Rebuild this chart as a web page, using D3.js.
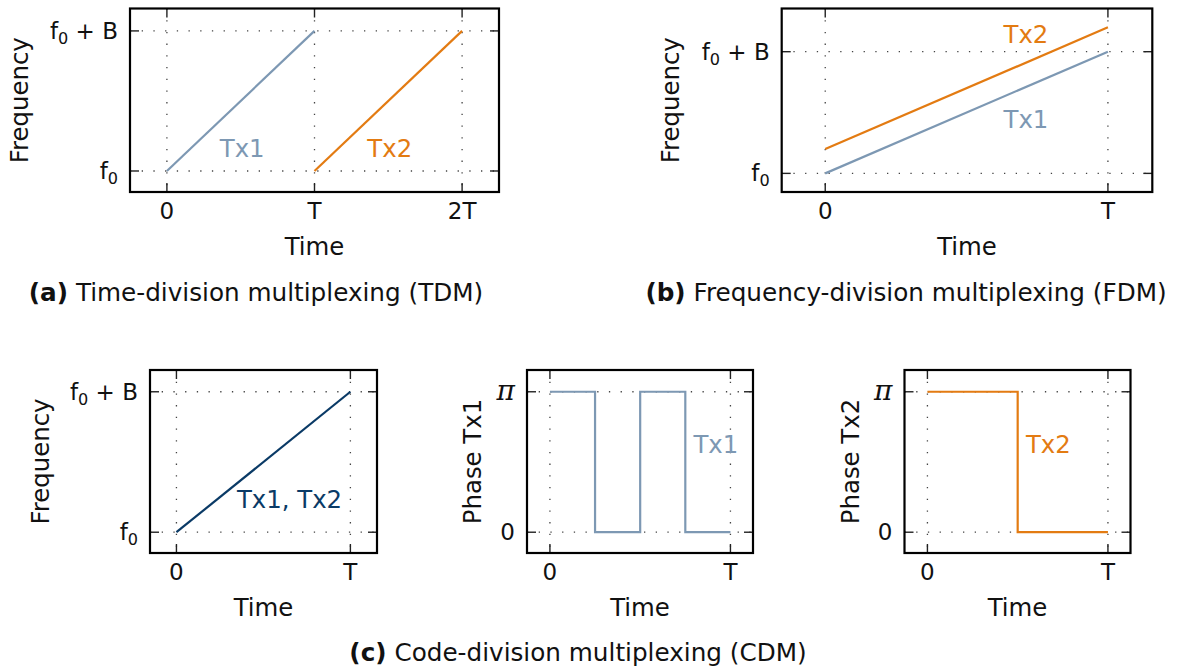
<!DOCTYPE html>
<html>
<head>
<meta charset="utf-8">
<script src="https://cdn.jsdelivr.net/npm/d3@7"></script>
<style>
  body { margin: 0; background: #fff; }
  text { font-family: "DejaVu Sans", sans-serif; fill: #111; }
</style>
</head>
<body>
<div id="fig"></div>
<script>
//---------------- data ----------------
var colTx1 = "#7d98b3", colTx2 = "#e37b12", colBoth = "#0a3a66";

// (a) TDM : time in units of T, frequency in units of B above f0
var tdmTx1 = [{t: 0, f: 0}, {t: 1, f: 1}];
var tdmTx2 = [{t: 1, f: 0}, {t: 2, f: 1}];
var tdmTicksX = [0, 1, 2], tdmTickLabelsX = ["0", "T", "2T"];

// (b) FDM
var fdmTx1 = [{t: 0, f: 0}, {t: 1, f: 1}];
var fdmTx2 = [{t: 0, f: 0.2}, {t: 1, f: 1.2}];

// (c) CDM
var cdmChirp = [{t: 0, f: 0}, {t: 1, f: 1}];
var chipTimes = [0, 0.25, 0.5, 0.75, 1];
var phaseTx1 = [1, 0, 1, 0, 0];   // 1 = pi, 0 = 0
var phaseTx2 = [1, 1, 0, 0, 0];

var ticksX01 = [0, 1], tickLabelsX01 = ["0", "T"];
var ticksFreq = [0, 1];           // f0, f0 + B
var ticksPhase = [0, 1];          // 0, pi

//---------------- svg ----------------
var width = 1178, height = 669;
var svg = d3.select("#fig").append("svg")
  .attr("width", width).attr("height", height);

var fs = 23,        // tick labels
    fsTitle = 24.4, // axis titles, series labels
    fsCap = 24.7;   // captions

function freqLabel(sel, d) {
  // f0 or f0 + B with subscript
  sel.text(null);
  sel.append("tspan").text("f");
  sel.append("tspan").attr("font-size", fs * 0.7).attr("dy", 5).text("0");
  if (d == 1) sel.append("tspan").attr("dy", -5).text(" + B");
}
function phaseLabel(sel, d) {
  sel.text(null);
  if (d == 1) {
    sel.append("tspan").attr("font-family", "DejaVu Serif").attr("font-style", "italic")
      .attr("font-size", 28).text("\u03c0");
  } else {
    sel.text("0");
  }
}

function panel(p) {
  var g = svg.append("g");
  var x = d3.scaleLinear().domain(p.xdom).range([p.left, p.left + p.w]);
  var y = d3.scaleLinear().domain(p.ydom).range([p.top + p.h, p.top]);

  // dotted grid
  g.selectAll(".gx").data(p.xticks).enter().append("line")
    .attr("x1", d => x(d)).attr("x2", d => x(d))
    .attr("y1", p.top).attr("y2", p.top + p.h)
    .attr("stroke", "#444").attr("stroke-width", 1.3)
    .attr("stroke-dasharray", "1.3,10.4");
  g.selectAll(".gy").data(p.yticks).enter().append("line")
    .attr("y1", d => y(d)).attr("y2", d => y(d))
    .attr("x1", p.left).attr("x2", p.left + p.w)
    .attr("stroke", "#444").attr("stroke-width", 1.3)
    .attr("stroke-dasharray", "1.3,10.4");

  // inward ticks on all four sides
  var tl = 9;
  p.xticks.forEach(function(d) {
    g.append("line").attr("x1", x(d)).attr("x2", x(d))
      .attr("y1", p.top + p.h).attr("y2", p.top + p.h - tl)
      .attr("stroke", "#222").attr("stroke-width", 1.4);
    g.append("line").attr("x1", x(d)).attr("x2", x(d))
      .attr("y1", p.top).attr("y2", p.top + tl)
      .attr("stroke", "#222").attr("stroke-width", 1.4);
  });
  p.yticks.forEach(function(d) {
    g.append("line").attr("y1", y(d)).attr("y2", y(d))
      .attr("x1", p.left).attr("x2", p.left + tl)
      .attr("stroke", "#222").attr("stroke-width", 1.4);
    g.append("line").attr("y1", y(d)).attr("y2", y(d))
      .attr("x1", p.left + p.w).attr("x2", p.left + p.w - tl)
      .attr("stroke", "#222").attr("stroke-width", 1.4);
  });

  // series
  p.series.forEach(function(s) {
    var line = d3.line().x(d => x(d.t)).y(d => y(d.f));
    if (s.step) line.curve(d3.curveStepAfter);
    g.append("path").datum(s.data)
      .attr("d", line)
      .attr("fill", "none")
      .attr("stroke", s.color)
      .attr("stroke-width", 2.2);
    g.append("text")
      .attr("x", x(s.label[0])).attr("y", y(s.label[1]))
      .attr("text-anchor", "middle")
      .attr("font-size", fsTitle)
      .style("fill", s.color)
      .text(s.name);
  });

  // frame
  g.append("rect")
    .attr("x", p.left).attr("y", p.top).attr("width", p.w).attr("height", p.h)
    .attr("fill", "none").attr("stroke", "#000").attr("stroke-width", 2.2);

  // tick labels
  g.selectAll(".xl").data(p.xticks).enter().append("text")
    .attr("x", d => x(d)).attr("y", p.top + p.h + 27)
    .attr("text-anchor", "middle").attr("font-size", fs)
    .text((d, i) => p.xlabels[i]);
  g.selectAll(".yl").data(p.yticks).enter().append("text")
    .attr("x", p.left - 12).attr("y", d => y(d) + 8)
    .attr("text-anchor", "end").attr("font-size", fs)
    .each(function(d) { p.ylabelFn(d3.select(this), d); });

  // axis titles
  g.append("text")
    .attr("x", p.left + p.w / 2).attr("y", p.top + p.h + 63)
    .attr("text-anchor", "middle").attr("font-size", fsTitle)
    .text("Time");
  g.append("text")
    .attr("transform", "translate(" + p.ytx + "," + (p.top + p.h / 2) + ") rotate(-90)")
    .attr("text-anchor", "middle").attr("dy", "0.35em").attr("font-size", fsTitle)
    .text(p.ytitle);
}

var panels = [
  {left: 130, top: 8.5, w: 369, h: 183.5, xdom: [-0.25, 2.25], ydom: [-0.15, 1.16],
   xticks: tdmTicksX, xlabels: tdmTickLabelsX, yticks: ticksFreq, ylabelFn: freqLabel,
   ytitle: "Frequency", ytx: 19,
   series: [{data: tdmTx1, color: colTx1, name: "Tx1", label: [0.51, 0.1]},
            {data: tdmTx2, color: colTx2, name: "Tx2", label: [1.51, 0.1]}]},
  {left: 781.7, top: 8.5, w: 370.6, h: 183.5, xdom: [-0.154, 1.157], ydom: [-0.153, 1.355],
   xticks: ticksX01, xlabels: tickLabelsX01, yticks: ticksFreq, ylabelFn: freqLabel,
   ytitle: "Frequency", ytx: 670,
   series: [{data: fdmTx1, color: colTx1, name: "Tx1", label: [0.71, 0.375]},
            {data: fdmTx2, color: colTx2, name: "Tx2", label: [0.71, 1.07]}]},
  {left: 150, top: 370, w: 227, h: 183, xdom: [-0.152, 1.153], ydom: [-0.148, 1.155],
   xticks: ticksX01, xlabels: tickLabelsX01, yticks: ticksFreq, ylabelFn: freqLabel,
   ytitle: "Frequency", ytx: 40,
   series: [{data: cdmChirp, color: colBoth, name: "Tx1, Tx2", label: [0.65, 0.171]}]},
  {left: 527, top: 370, w: 226, h: 183, xdom: [-0.127, 1.125], ydom: [-0.148, 1.155],
   xticks: ticksX01, xlabels: tickLabelsX01, yticks: ticksPhase, ylabelFn: phaseLabel,
   ytitle: "Phase Tx1", ytx: 472,
   series: [{data: chipTimes.map((t, i) => ({t: t, f: phaseTx1[i]})), step: true,
             color: colTx1, name: "Tx1", label: [0.919, 0.565]}]},
  {left: 904.5, top: 370, w: 226, h: 183, xdom: [-0.127, 1.125], ydom: [-0.148, 1.155],
   xticks: ticksX01, xlabels: tickLabelsX01, yticks: ticksPhase, ylabelFn: phaseLabel,
   ytitle: "Phase Tx2", ytx: 850,
   series: [{data: chipTimes.map((t, i) => ({t: t, f: phaseTx2[i]})), step: true,
             color: colTx2, name: "Tx2", label: [0.67, 0.565]}]}
];

panels.forEach(panel);

// captions
var captions = [
  {x: 256, y: 301, tag: "(a)", text: " Time-division multiplexing (TDM)"},
  {x: 906, y: 301, tag: "(b)", text: " Frequency-division multiplexing (FDM)"},
  {x: 578, y: 661, tag: "(c)", text: " Code-division multiplexing (CDM)"}
];
captions.forEach(function(c) {
  var t = svg.append("text").attr("x", c.x).attr("y", c.y)
    .attr("text-anchor", "middle").attr("font-size", fsCap);
  t.append("tspan").attr("font-weight", "bold").text(c.tag);
  t.append("tspan").text(c.text);
});
</script>
</body>
</html>
